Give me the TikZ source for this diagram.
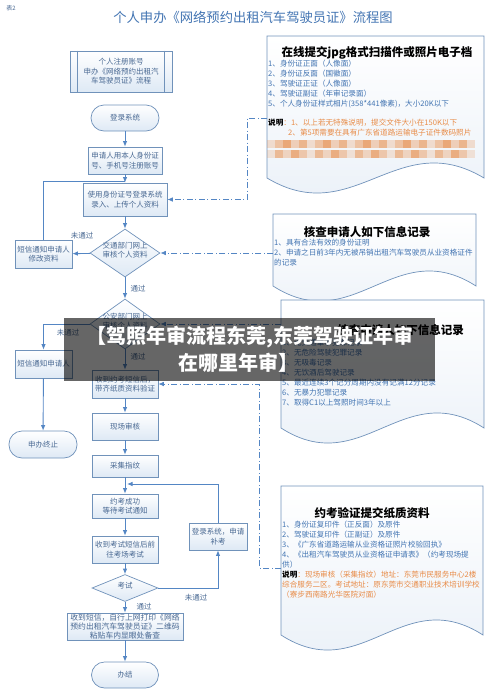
\documentclass[tikz,border=0pt]{standalone}
\usepackage{fontspec}
\setmainfont{Noto Sans CJK SC}
\usetikzlibrary{shapes.geometric,arrows.meta,calc}
\definecolor{boxline}{RGB}{112,146,186}
\definecolor{boxfill}{RGB}{222,233,245}
\definecolor{boxtext}{RGB}{72,104,146}
\definecolor{arrowc}{RGB}{84,134,196}
\definecolor{itemblue}{RGB}{66,116,178}
\definecolor{noteor}{RGB}{232,140,72}
\definecolor{docfill}{RGB}{232,239,247}
\newcommand{\dtxt}[1]{\makebox[0pt]{\smash{\begin{tabular}{@{}c@{}}#1\end{tabular}}}}
\newcommand{\docshape}[4]{%
  \path[draw=boxline, line width=0.7pt, top color=white, bottom color=docfill]
    (#1,#2) -- (#3,#2) -- (#3,#4)
    .. controls ({#3-0.4*(#3-#1)},{#4-52}) and ({#1+0.4*(#3-#1)},{#4+52}) .. (#1,#4) -- cycle;}

\begin{document}
\begin{tikzpicture}[x=1pt, y=-1pt, >={Latex[length=5.5pt,width=4.5pt]},
    box/.style={draw=boxline, line width=0.7pt, top color=white, bottom color=boxfill, text=boxtext, font=\fontsize{7.5}{9.5}\selectfont, align=center, inner sep=0pt},
    term/.style={box, rounded corners=13pt},
    dec/.style={diamond, box},
    arr/.style={draw=arrowc, line width=0.9pt, ->},
    link/.style={draw=arrowc, line width=0.7pt, dash pattern=on 6pt off 2.5pt on 1pt off 2.5pt, ->},
    lbl/.style={text=boxtext, font=\fontsize{7.5}{9.5}\selectfont, inner sep=0pt}]
    \tikzstyle{doctitle}=[font=\bfseries\fontsize{11.5}{13}\selectfont, inner sep=0pt]
    \tikzstyle{items}=[text=itemblue, font=\fontsize{7.6}{10}\selectfont, align=left, anchor=north west, inner sep=0pt]

    \useasboundingbox (0,0) rectangle (500,699);

    % Draw heading
    \node[text=boxtext, font=\fontsize{6}{7}\selectfont] (tab) at (11,8) {表2};
    \node[text=itemblue, font=\fontsize{13.3}{15}\selectfont] (title) at (253,17) {个人申办《网络预约出租汽车驾驶员证》流程图};

    % Draw document boxes
    \docshape{267}{36}{484}{178}
    \node[doctitle] (d1t) at (377,53) {在线提交jpg格式扫描件或照片电子档};
    \node[items] (d1l) at (268,60) {1、身份证正面（人像面）\\2、身份证反面（国徽面）\\3、驾驶证正证（人像面）\\4、驾驶证副证（年审记录面）\\5、个人身份证样式相片(358*441像素)，大小20K以下};
    \node[items, text=noteor] (d1n) at (268,119) {\textcolor{black}{\textbf{说明}}：1、以上若无特殊说明，提交文件大小在150K以下\\\hspace*{20pt}2、第5项需要在具有广东省道路运输电子证件数码照片};
    \foreach \i in {0,...,25} {
      \pgfmathsetmacro{\op}{0.25+0.12*mod(\i*7,5)}
      \fill[noteor, opacity=\op] ({267+8*\i},140) rectangle ({275+8*\i},148);
      \pgfmathsetmacro{\oq}{0.2+0.12*mod(\i*3,5)}
      \fill[noteor, opacity=\oq] ({267+8*\i},150) rectangle ({275+8*\i},158);
    }

    \docshape{273}{214}{476}{286}
    \node[doctitle] (d2t) at (367,232) {核查申请人如下信息记录};
    \node[items] (d2l) at (274,239) {1、具有合法有效的身份证明\\2、申请之日前3年内无被吊销出租汽车驾驶员从业资格证件\\的记录};

    \docshape{281}{300}{484}{428}
    \node[doctitle, anchor=east] (d3t) at (464,330) {核查申请人如下信息记录};
    \node[items] (d3l) at (282,339) {1、无交通肇事犯罪记录\\2、无危险驾驶犯罪记录\\3、无吸毒记录\\4、无饮酒后驾驶记录\\5、最近连续3个记分周期内没有记满12分记录\\6、无暴力犯罪记录\\7、取得C1以上驾照时间3年以上};

    \docshape{281}{486}{483}{635}
    \node[doctitle] (d4t) at (372,513) {约考验证提交纸质资料};
    \node[items] (d4l) at (282,521) {1、身份证复印件（正反面）及原件\\2、驾驶证复印件（正副证）及原件\\3、《广东省道路运输从业资格证照片校验回执》\\4、《出租汽车驾驶员从业资格证申请表》（约考现场提\\供）\\\textcolor{black}{\textbf{说明}}\textcolor{noteor}{：现场审核（采集指纹）地址：东莞市民服务中心2楼}\\\textcolor{noteor}{综合服务二区。考试地址：原东莞市交通职业技术培训学校}\\\textcolor{noteor}{（寮步西南路光华医院对面）}};

    % Draw flow boxes
    \node[box, minimum width=102pt, minimum height=41pt] (reg) at (121,71.5) {个人注册账号\\申办《网络预约出租汽\\车驾驶员证》流程};
    \draw[boxline, line width=0.7pt] ($(reg.north west)+(8,0)$) -- ($(reg.south west)+(8,0)$);
    \draw[boxline, line width=0.7pt] ($(reg.north east)+(-8,0)$) -- ($(reg.south east)+(-8,0)$);
    \node[term, minimum width=68pt, minimum height=26pt] (login) at (125,118) {登录系统};
    \node[box, minimum width=74pt, minimum height=27pt] (apply) at (125,160.5) {申请人用本人身份证\\号、手机号注册账号};
    \node[box, minimum width=84pt, minimum height=33pt] (upload) at (125,199.5) {使用身份证号登录系统\\录入、上传个人资料};
    \node[dec, minimum width=70pt, minimum height=48pt] (chk1) at (125,253) {\dtxt{交通部门网上\\审核个人资料}};
    \node[box, minimum width=57pt, minimum height=28pt] (note1) at (43.5,254) {短信通知申请人\\修改资料};
    \node[dec, minimum width=70pt, minimum height=50pt] (chk2) at (125,324) {\dtxt{公安部门网上\\审核个人资料}};
    \node[box, minimum width=57pt, minimum height=28pt] (note2) at (43.5,364) {短信通知申请人};
    \node[term, minimum width=68pt, minimum height=27pt] (stop) at (43,444.5) {申办终止};
    \node[box, minimum width=66pt, minimum height=28pt] (verify) at (125,384) {收到约考短信后，\\带齐纸质资料验证};
    \node[box, minimum width=66pt, minimum height=27pt] (site) at (125,426.5) {现场审核};
    \node[box, minimum width=66pt, minimum height=22pt] (finger) at (125,466) {采集指纹};
    \node[box, minimum width=66pt, minimum height=24pt] (wait) at (125,506) {约考成功\\等待考试通知};
    \node[box, minimum width=66pt, minimum height=27pt] (exam) at (125,549.5) {收到考试短信后前\\往考场考试};
    \node[dec, minimum width=66pt, minimum height=27pt] (test) at (125,588) {\dtxt{考试}};
    \node[box, minimum width=58pt, minimum height=27pt] (retry) at (218,536.5) {登录系统，申请\\补考};
    \node[box, minimum width=116pt, minimum height=27pt, font=\fontsize{7.8}{9}\selectfont] (print) at (125,626.5) {收到短信，自行上网打印《网络\\预约出租汽车驾驶员证》二维码\\粘贴车内显眼处备查};
    \node[term, minimum width=67pt, minimum height=26pt] (done) at (125,675) {办结};

    % Draw arrows
    \coordinate (j1) at (125,181);
    \coordinate (j2) at (127,484);
    \draw[arr] (login) -- (apply);
    \draw[arr] (apply) -- (upload);
    \draw[draw=arrowc, line width=0.9pt] (note1.north) |- (j1);
    \draw[arr] (upload) -- (chk1);
    \draw[arr] (chk1) -- (note1);
    \draw[arr] (chk1) -- (chk2);
    \draw[arr] (chk2.west) -| (note2.north);
    \draw[arr] (note2) -- (stop);
    \draw[arr] (chk2) -- (verify);
    \draw[arr] (verify) -- (site);
    \draw[arr] (site) -- (finger);
    \draw[arr] (finger) -- (wait);
    \draw[arr] (retry.north) |- (j2);
    \draw[arr] (wait) -- (exam);
    \draw[arr] (exam) -- (test);
    \draw[arr] (test.east) -| (retry.south);
    \draw[arr] (test) -- (print);
    \draw[arr] (print) -- (done);
    \node[lbl] (l1) at (82,236) {未通过};
    \node[lbl] (l2) at (138,289) {通过};
    \node[lbl] (l3) at (68,333) {未通过};
    \node[lbl] (l4) at (138,357) {通过};
    \node[lbl] (l5) at (196,598) {未通过};
    \node[lbl] (l6) at (144,607) {通过};

    % Draw links to documents
    \coordinate (d1w) at (267,118);
    \coordinate (k1) at (247,118);
    \coordinate (d2w) at (273,253);
    \coordinate (d3w) at (281,324);
    \coordinate (d4w) at (281,568);
    \coordinate (k4) at (259,568);
    \draw[link] (d1w) -- (k1) |- (upload.east);
    \draw[link] (d2w) -- (chk1.east);
    \draw[link] (d3w) -- (chk2.east);
    \draw[link] (d4w) -- (k4) |- (verify.east);

    % Draw banner
    \fill[black, fill opacity=0.6] (64,318) rectangle (435,381);
    \node[text=white, font=\bfseries\fontsize{20}{22}\selectfont] (ov1) at (250,337) {【驾照年审流程东莞,东莞驾驶证年审};
    \node[text=white, font=\bfseries\fontsize{20}{22}\selectfont] (ov2) at (238,363) {在哪里年审】};
\end{tikzpicture}
\end{document}
